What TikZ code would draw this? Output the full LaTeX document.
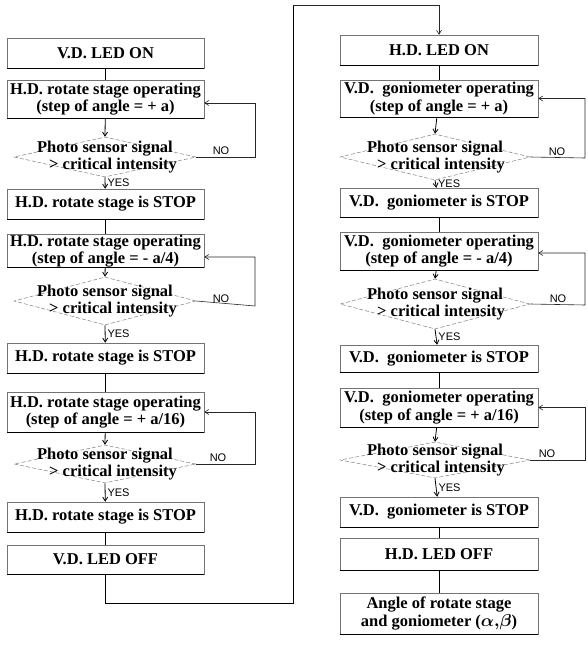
\documentclass[tikz,border=0pt]{standalone}
\usepackage{fontspec}
\setmainfont{Liberation Serif}
\newfontfamily\lsans{Liberation Sans}
\usetikzlibrary{shapes.geometric,arrows.meta}
\begin{document}
\begin{tikzpicture}[x=1pt,y=-1pt]
\tikzset{
 box/.style={draw=black!55, line width=0.5pt, minimum width=197pt, inner sep=0pt, align=center, font=\bfseries\fontsize{16.5}{17.5}\selectfont},
 rbox/.style={box, minimum width=198pt},
 dia/.style={diamond, draw=black!50, dash pattern=on 4pt off 2pt, inner sep=0pt, line width=0.5pt},
 dtext/.style={align=center, font=\bfseries\fontsize{16.5}{17.5}\selectfont, inner sep=0pt},
 lab/.style={font=\lsans\fontsize{11}{12}\selectfont, inner sep=1pt},
 conn/.style={line width=0.8pt, black},
 arr/.style={conn, -{Straight Barb[length=4pt,width=5pt]}},
 back/.style={line width=0.6pt, black!85, -{Straight Barb[length=4pt,width=5pt]}},
}
\useasboundingbox (0,0) rectangle (587,645);
% ---------- left column ----------
\node[box, minimum height=30pt] (l1) at (105.5,53) {V.D. LED ON};
\node[box, minimum height=38pt] (l2) at (105.5,99) {H.D. rotate stage operating\\(step of angle = + a)};
\node[dia, minimum width=182pt, minimum height=40pt] (d1) at (105,157) {};
\node[dtext] (t1) at (d1.center) {Photo sensor signal\\\hspace*{16pt}> critical intensity};
\node[box, minimum height=30pt] (l3) at (105.5,204) {H.D. rotate stage is STOP};
\node[box, minimum height=32pt] (l4) at (105.5,251) {H.D. rotate stage operating\\(step of angle = - a/4)};
\node[dia, minimum width=182pt, minimum height=48pt] (d2) at (105,301) {};
\node[dtext] (t2) at (d2.center) {Photo sensor signal\\\hspace*{16pt}> critical intensity};
\node[box, minimum height=30pt] (l5) at (105.5,358) {H.D. rotate stage is STOP};
\node[box, minimum height=40pt] (l6) at (105.5,412) {H.D. rotate stage operating\\(step of angle = + a/16)};
\node[dia, minimum width=182pt, minimum height=38pt] (d3) at (105,464) {};
\node[dtext] (t3) at (d3.center) {Photo sensor signal\\\hspace*{16pt}> critical intensity};
\node[box, minimum height=30pt] (l7) at (105.5,517) {H.D. rotate stage is STOP};
\node[box, minimum height=29pt] (l8) at (105.5,559.5) {V.D. LED OFF};
% ---------- right column ----------
\node[rbox, minimum height=30pt] (r1) at (439,50) {H.D. LED ON};
\node[rbox, minimum height=37pt] (r2) at (439,98.5) {V.D.\ \ goniometer operating\\(step of angle = + a)};
\node[dia, minimum width=190pt, minimum height=46pt] (d4) at (435,157) {};
\node[dtext] (t4) at (d4.center) {Photo sensor signal\\\hspace*{12pt}> critical intensity};
\node[rbox, minimum height=29pt] (r3) at (439,202.5) {V.D.\ \ goniometer is STOP};
\node[rbox, minimum height=38pt] (r4) at (439,251) {V.D.\ \ goniometer operating\\(step of angle = - a/4)};
\node[dia, minimum width=190pt, minimum height=50pt] (d5) at (435,304) {};
\node[dtext] (t5) at (d5.center) {Photo sensor signal\\\hspace*{12pt}> critical intensity};
\node[rbox, minimum height=27pt] (r5) at (439,358.5) {V.D.\ \ goniometer is STOP};
\node[rbox, minimum height=39pt] (r6) at (439,407.5) {V.D.\ \ goniometer operating\\(step of angle = + a/16)};
\node[dia, minimum width=190pt, minimum height=36pt] (d6) at (435,460) {};
\node[dtext] (t6) at (d6.center) {Photo sensor signal\\\hspace*{12pt}> critical intensity};
\node[rbox, minimum height=30pt] (r7) at (439,512) {V.D.\ \ goniometer is STOP};
\node[rbox, minimum height=32pt] (r8) at (439,554) {H.D. LED OFF};
\node[rbox, minimum height=41pt] (r9) at (439,613.5) {Angle of rotate stage\\and goniometer ({\boldmath$\alpha{,}\beta$})};
% heavy bottom edges
\foreach \n in {l1,l2,l3,l4,l5,l6,l7,l8,r1,r2,r3,r4,r5,r6,r7,r8,r9}
  \draw[line width=1.1pt] (\n.south west) -- (\n.south east);
% ---------- left connectors ----------
\draw[conn] (l1) -- (l2);
\draw[arr] (l2) -- (d1.north);
\draw[arr] (d1.south) -- (l3) node[lab, midway, anchor=west, xshift=1pt] (y1) {YES};
\draw[conn] (l3) -- (l4);
\draw[arr] (l4) -- (d2.north);
\draw[arr] (d2.south) -- (l5) node[lab, midway, anchor=west, xshift=1pt] (y2) {YES};
\draw[conn] (l5) -- (l6);
\draw[arr] (l6) -- (d3.north);
\draw[arr] (d3.south) -- (l7) node[lab, midway, anchor=west, xshift=1pt] (y3) {YES};
\draw[conn] (l7) -- (l8);
\coordinate (k1) at (255,157);
\coordinate (k2) at (255,306);
\coordinate (k3) at (255,464);
\draw[back] (d1.east) -- (k1) |- ([yshift=-4pt]l2.east);
\draw[back] (d2.east) -- (k2) |- ([yshift=-6pt]l4.east);
\draw[back] (d3.east) -- (k3) |- (l6.east);
\node[lab, anchor=south] (n1) at (221,156) {NO};
\node[lab, anchor=south] (n2) at (221,304) {NO};
\node[lab, anchor=south] (n3) at (218,463) {NO};
% ---------- link between columns ----------
\coordinate (m1) at (293,603);
\coordinate (m2) at (293,5);
\draw[conn] (l8.south) |- (m1) -- (m2);
\draw[back] (m2) -| (r1.north);
% ---------- right connectors ----------
\draw[conn] (r1) -- (r2);
\draw[arr] (r2) -- (d4.north);
\draw[arr] (d4.south) -- (r3) node[lab, midway, anchor=west, xshift=1pt] (y4) {YES};
\draw[conn] (r3) -- (r4);
\draw[arr] (r4) -- (d5.north);
\draw[arr] (d5.south) -- (r5) node[lab, midway, anchor=west, xshift=1pt] (y5) {YES};
\draw[conn] (r5) -- (r6);
\draw[arr] (r6) -- (d6.north);
\draw[arr] (d6.south) -- (r7) node[lab, midway, anchor=west, xshift=1pt] (y6) {YES};
\draw[conn] (r7) -- (r8);
\draw[conn] (r8) -- (r9);
\coordinate (k4) at (585,158);
\coordinate (k5) at (585,305);
\coordinate (k6) at (585,460);
\draw[back] (d4.east) -- (k4) |- (r2.east);
\draw[back] (d5.east) -- (k5) |- ([yshift=-2pt]r4.east);
\draw[back] (d6.east) -- (k6) |- (r6.east);
\node[lab, anchor=south] (n4) at (557,157) {NO};
\node[lab, anchor=south] (n5) at (558,304) {NO};
\node[lab, anchor=south] (n6) at (547,459) {NO};
\end{tikzpicture}
\end{document}
